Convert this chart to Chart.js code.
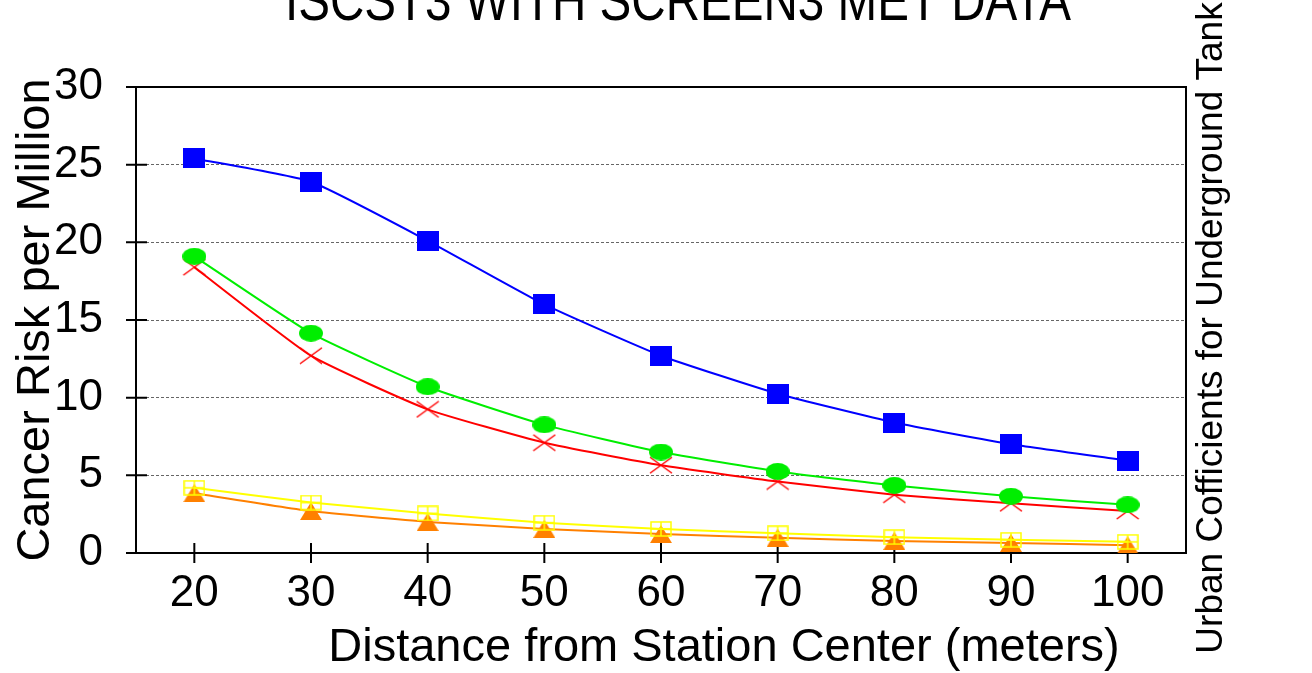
<!DOCTYPE html>
<html>
<head>
<meta charset="utf-8">
<title>ISCST3 WITH SCREEN3 MET DATA</title>
<script src="https://cdn.jsdelivr.net/npm/chart.js@4.4.1/dist/chart.umd.min.js"></script>
<style>
html, body { margin: 0; padding: 0; background: #ffffff; }
</style>
</head>
<body>
<canvas id="chart" width="1312" height="673"></canvas>
<script>

// distance from station center (meters)
var distances = [20, 30, 40, 50, 60, 70, 80, 90, 100];

// cancer risk per million, one array per curve
var riskBlue   = [25.4, 23.9, 20.1, 16.0, 12.7, 10.25, 8.4, 7.0, 5.95];
var riskGreen  = [19.1, 14.15, 10.7, 8.25, 6.5, 5.25, 4.35, 3.65, 3.1];
var riskRed    = [18.4, 12.7, 9.25, 7.1, 5.65, 4.6, 3.75, 3.2, 2.7];
var riskYellow = [4.2, 3.25, 2.55, 1.95, 1.55, 1.27, 1.02, 0.85, 0.72];
var riskOrange = [3.85, 2.7, 2.0, 1.55, 1.22, 0.98, 0.78, 0.65, 0.5];

var yTickLabels = [0, 5, 10, 15, 20, 25, 30];

var FONT = "'Liberation Sans', Arial, sans-serif";

function toPoints(values) {
    return distances.map((d, i) => ({ x: d, y: values[i] }));
}

// little canvases used as point markers
function marker(w, h, draw) {
    var c = document.createElement('canvas');
    c.width = w;
    c.height = h;
    draw(c.getContext('2d'), w, h);
    return c;
}

var squareMark = marker(22, 20, (ctx, w, h) => {
    ctx.fillStyle = '#0000ff';
    ctx.fillRect(0, 0, w, h);
});

var ellipseMark = marker(24, 17, (ctx, w, h) => {
    ctx.fillStyle = '#00ee00';
    ctx.beginPath();
    ctx.ellipse(w / 2, h / 2, w / 2, h / 2, 0, 0, Math.PI * 2);
    ctx.fill();
});

var crossMark = marker(24, 18, (ctx, w, h) => {
    ctx.strokeStyle = '#ff0000';
    ctx.lineWidth = 1.5;
    ctx.beginPath();
    ctx.moveTo(1, 1); ctx.lineTo(w - 1, h - 1);
    ctx.moveTo(w - 1, 1); ctx.lineTo(1, h - 1);
    ctx.stroke();
});

var boxPlusMark = marker(22, 16, (ctx, w, h) => {
    ctx.strokeStyle = '#ffff00';
    ctx.lineWidth = 1.5;
    ctx.strokeRect(1, 1, w - 2, h - 2);
    ctx.beginPath();
    ctx.moveTo(w / 2, 1); ctx.lineTo(w / 2, h - 1);
    ctx.moveTo(1, h / 2); ctx.lineTo(w - 1, h / 2);
    ctx.stroke();
});

var triangleMark = marker(22, 18, (ctx, w, h) => {
    ctx.fillStyle = '#ff8000';
    ctx.beginPath();
    ctx.moveTo(w / 2, 0);
    ctx.lineTo(w, h);
    ctx.lineTo(0, h);
    ctx.closePath();
    ctx.fill();
});

function series(values, color, style) {
    return {
        data: toPoints(values),
        borderColor: color,
        backgroundColor: color,
        borderWidth: 2,
        pointStyle: style,
        pointRadius: 10,
        tension: 0.15,
        fill: false
    };
}

// plot frame and the ticks that point both inwards and outwards
var framePlugin = {
    id: 'frame',
    beforeDatasetsDraw(chart) {
        var ctx = chart.ctx;
        var a = chart.chartArea;
        var xs = chart.scales.x;
        var ys = chart.scales.y;
        ctx.save();
        ctx.strokeStyle = '#000000';
        ctx.lineWidth = 2;
        ctx.beginPath();
        ctx.moveTo(a.left - 10, a.top);
        ctx.lineTo(a.right, a.top);
        ctx.lineTo(a.right, a.bottom);
        ctx.lineTo(a.left - 10, a.bottom);
        ctx.moveTo(a.left, a.top);
        ctx.lineTo(a.left, a.bottom);
        ys.ticks.forEach(t => {
            var y = ys.getPixelForValue(t.value);
            var len = (t.value % 5 === 0) ? 10 : 4;
            ctx.moveTo(a.left - len, y);
            ctx.lineTo(a.left + len + 1, y);
        });
        xs.ticks.forEach(t => {
            var x = xs.getPixelForValue(t.value);
            ctx.moveTo(x, a.bottom - 10);
            ctx.lineTo(x, a.bottom + 10);
        });
        ctx.stroke();
        ctx.restore();
    },
    afterDraw(chart) {
        var ctx = chart.ctx;
        ctx.save();
        ctx.fillStyle = '#000000';
        ctx.textAlign = 'center';
        ctx.textBaseline = 'alphabetic';

        // the title face is a narrow one, squeeze the regular face to its width
        var title = 'ISCST3 WITH SCREEN3 MET DATA';
        ctx.font = '57px ' + FONT;
        var sx = 786 / ctx.measureText(title).width;
        ctx.save();
        ctx.translate(678, 20);
        ctx.scale(sx, 1);
        ctx.fillText(title, 0, 0);
        ctx.restore();

        ctx.font = '47px ' + FONT;
        ctx.fillText('Distance from Station Center (meters)', 724, 661);

        ctx.translate(1222, 328);
        ctx.rotate(-Math.PI / 2);
        ctx.font = '37px ' + FONT;
        ctx.fillText('Urban Cofficients for Underground Tank', 0, 0);
        ctx.restore();
    }
};

const ctx = document.getElementById('chart');

var myChart = new Chart(ctx, {
    type: 'line',
    data: {
        datasets: [
            series(riskBlue, '#0000ff', squareMark),
            series(riskGreen, '#00ee00', ellipseMark),
            series(riskRed, '#ff0000', crossMark),
            series(riskYellow, '#ffff00', boxPlusMark),
            series(riskOrange, '#ff8000', triangleMark)
        ]
    },
    options: {
        responsive: false,
        animation: false,
        devicePixelRatio: 1,
        layout: { padding: { top: 87, right: 126, bottom: 0, left: 0 } },
        plugins: {
            legend: { display: false },
            title: { display: false },
            tooltip: { enabled: false }
        },
        scales: {
            x: {
                type: 'linear',
                min: 15,
                max: 105,
                afterBuildTicks: (scale) => {
                    scale.ticks = distances.map(v => ({ value: v }));
                },
                afterFit: (scale) => { scale.height = 120; },
                grid: { display: false, drawTicks: false },
                border: { display: false },
                ticks: {
                    color: '#000000',
                    font: { family: FONT, size: 44 },
                    padding: 14,
                    maxRotation: 0,
                    autoSkip: false
                }
            },
            y: {
                min: 0,
                max: 30,
                afterBuildTicks: (scale) => {
                    var t = [];
                    yTickLabels.forEach((v, i) => {
                        t.push({ value: v });
                        if (i < yTickLabels.length - 1) t.push({ value: v + 2.5 });
                    });
                    scale.ticks = t;
                },
                afterFit: (scale) => { scale.width = 136; },
                grid: {
                    drawTicks: false,
                    lineWidth: 1,
                    color: (c) => {
                        var v = c.tick ? c.tick.value : 0;
                        return (v % 5 === 0 && v > 0 && v < 30) ? '#666666' : 'rgba(0,0,0,0)';
                    }
                },
                border: { display: false, dash: [3, 2] },
                ticks: {
                    color: '#000000',
                    font: { family: FONT, size: 44 },
                    padding: 33,
                    callback: (v) => (v % 5 === 0 ? String(v) : '')
                },
                title: {
                    display: true,
                    text: 'Cancer Risk per Million',
                    color: '#000000',
                    font: { family: FONT, size: 47 },
                    padding: { top: 8, bottom: 0 }
                }
            }
        }
    },
    plugins: [framePlugin]
});

</script>
</body>
</html>
